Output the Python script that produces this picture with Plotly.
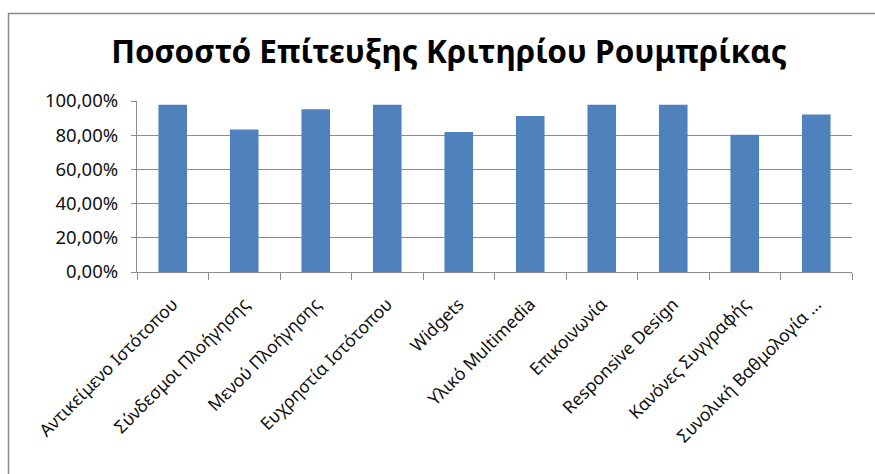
import plotly.graph_objects as go

# Rubric criteria and the share of submissions that met each one
criteria = [
    "Αντικείμενο Ιστότοπου",
    "Σύνδεσμοι Πλοήγησης",
    "Μενού Πλοήγησης",
    "Ευχρηστία Ιστότοπου",
    "Widgets",
    "Υλικό Multimedia",
    "Επικοινωνία",
    "Responsive Design",
    "Κανόνες Συγγραφής",
    "Συνολική Βαθμολογία ...",
]
success_rate = [0.978, 0.834, 0.952, 0.978, 0.818, 0.913, 0.978, 0.978, 0.802, 0.921]

y_ticks = [0.0, 0.2, 0.4, 0.6, 0.8, 1.0]

W, H = 875, 474
L, R, T, B = 137, 852, 100.5, 272.3
plot_w, plot_h = R - L, B - T

FONT = "Noto Sans"
GRID = "#8c8c8c"
TEXT = "#111111"

fig = go.Figure(
    go.Bar(
        x=criteria,
        y=success_rate,
        width=0.4,
        marker=dict(color="#4f81bd", line=dict(width=0)),
        hoverinfo="x+y",
    )
)

# Chart-area frame (its right and bottom edges run past the page)
fig.add_shape(
    type="rect",
    xref="paper", yref="paper",
    x0=(8.5 - L) / plot_w, x1=(890 - L) / plot_w,
    y0=(B - 490) / plot_h, y1=(B - 12.5) / plot_h,
    line=dict(color="#8a8a8a", width=1.5),
    fillcolor="rgba(0,0,0,0)",
    layer="below",
)

fig.update_layout(
    width=W,
    height=H,
    margin=dict(l=L, r=W - R, t=T, b=H - B, autoexpand=False),
    paper_bgcolor="white",
    plot_bgcolor="white",
    separators=",.",
    showlegend=False,
    font=dict(family=FONT, color=TEXT),
    title=dict(
        text="<b>Ποσοστό Επίτευξης Κριτηρίου Ρουμπρίκας</b>",
        font=dict(family=FONT, size=31.5, color="#000000"),
        x=449 / W,
        xanchor="center",
        xref="container",
        y=1 - 52 / H,
        yanchor="middle",
        yref="container",
    ),
    xaxis=dict(
        type="category",
        tickangle=-45,
        tickfont=dict(family=FONT, size=17.5, color=TEXT),
        ticklabelstandoff=14,
        showgrid=False,
        showline=True,
        linecolor=GRID,
        linewidth=1.3,
        ticks="outside",
        tickson="boundaries",
        ticklen=7,
        tickcolor=GRID,
        tickwidth=1.3,
        fixedrange=True,
    ),
    yaxis=dict(
        range=[0, 1.0],
        tickvals=y_ticks,
        tickformat=".2%",
        tickfont=dict(family=FONT, size=18.5, color=TEXT),
        ticklabelstandoff=9,
        showgrid=True,
        gridcolor=GRID,
        gridwidth=1.3,
        showline=True,
        linecolor=GRID,
        linewidth=1.3,
        ticks="outside",
        ticklen=5,
        tickcolor=GRID,
        tickwidth=1.3,
        zeroline=False,
        fixedrange=True,
    ),
)

fig.write_html("out.html")
